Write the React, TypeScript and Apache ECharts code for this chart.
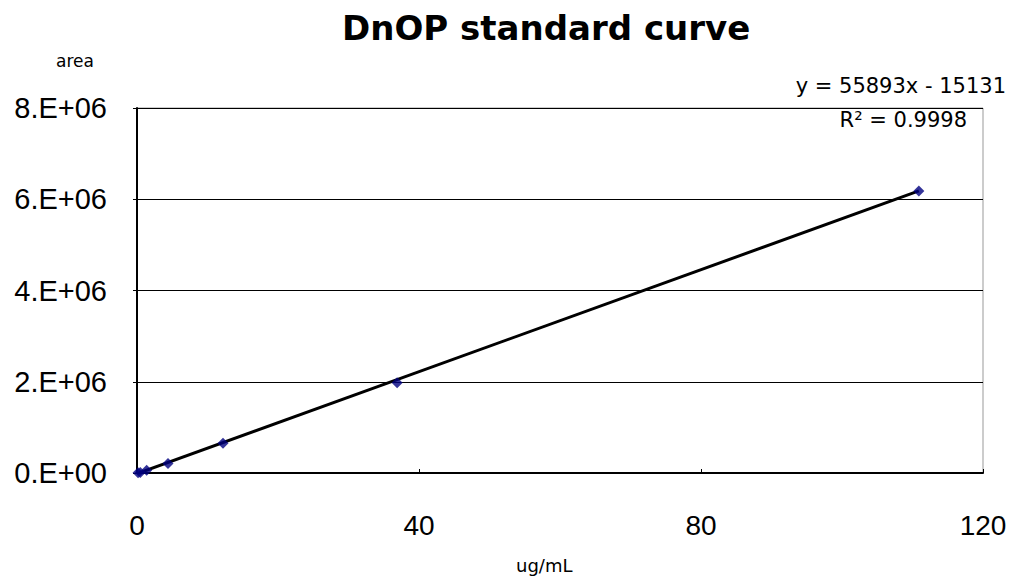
import React, { useEffect, useRef } from "react";
import * as echarts from "echarts";

const concentrations = [0.15, 0.46, 1.37, 4.4, 12.2, 36.9, 110.9];
const areas = [5000, 12000, 60000, 210000, 650000, 1980000, 6180000];
const trendX = [0, 110.9];
const trendY = [-15131, 6183403];
const xTicks = [0, 40, 80, 120];
const yTicks = [0, 2e6, 4e6, 6e6, 8e6];
const titleText = "DnOP standard curve";
const equationText = "y = 55893x - 15131";
const r2Text = "R² = 0.9998";

export default function App() {
  const ref = useRef<HTMLDivElement>(null);
  useEffect(() => {
    if (!ref.current) return;
    const chart = echarts.init(ref.current, null, { renderer: "svg" });
    const font = "'Liberation Sans', Arial, sans-serif";
    const dv = "'DejaVu Sans', sans-serif";
    chart.setOption({
      animation: false,
      backgroundColor: "#ffffff",
      title: {
        text: titleText,
        left: 337,
        top: 6,
        textStyle: { fontFamily: dv, fontSize: 34, fontWeight: "bold", color: "#000" },
      },
      grid: { left: 137, right: 31, top: 108, bottom: 111, show: true, borderColor: "#999", borderWidth: 1, backgroundColor: "#fff" },
      xAxis: {
        type: "value",
        min: xTicks[0],
        max: xTicks[xTicks.length - 1],
        interval: 40,
        axisLine: { show: true, onZero: false, lineStyle: { color: "#000", width: 2 } },
        axisTick: { show: true, inside: true, length: 4, lineStyle: { color: "#000" } },
        splitLine: { show: false },
        axisLabel: { fontFamily: font, fontSize: 28, color: "#000", margin: 38 },
      },
      yAxis: {
        type: "value",
        min: yTicks[0],
        max: yTicks[yTicks.length - 1],
        interval: 2e6,
        axisLine: { show: true, onZero: false, lineStyle: { color: "#000", width: 2 } },
        axisTick: { show: true, length: 4, lineStyle: { color: "#000" } },
        splitLine: { show: true, lineStyle: { color: "#000", width: 1 } },
        axisLabel: {
          fontFamily: font,
          fontSize: 29,
          color: "#000",
          margin: 30,
          formatter: (v: number) => (v === 0 ? "0.E+00" : `${Math.round(v / 1e6)}.E+06`),
        },
      },
      series: [
        {
          type: "line",
          data: trendX.map((x, i) => [x, trendY[i]]),
          symbol: "none",
          lineStyle: { color: "#000", width: 3 },
          z: 2,
        },
        {
          type: "scatter",
          data: concentrations.map((x, i) => [x, areas[i]]),
          symbol: "diamond",
          symbolSize: 11,
          itemStyle: { color: "#000080" },
          z: 3,
        },
      ],
      graphic: [
        { type: "text", left: 56, top: 52, style: { text: "area", fontFamily: dv, fontSize: 17, fill: "#000" } },
        { type: "text", left: 516, top: 556, style: { text: "ug/mL", fontFamily: dv, fontSize: 18, fill: "#000" } },
        { type: "text", right: 8, top: 75, style: { text: equationText, fontFamily: dv, fontSize: 21, fill: "#000" } },
        { type: "text", right: 47, top: 109, style: { text: r2Text, fontFamily: dv, fontSize: 21, fill: "#000" } },
      ],
    });
    return () => chart.dispose();
  }, []);
  return <div ref={ref} style={{ width: 1014, height: 584, position: "fixed", left: 0, top: 0 }} />;
}
